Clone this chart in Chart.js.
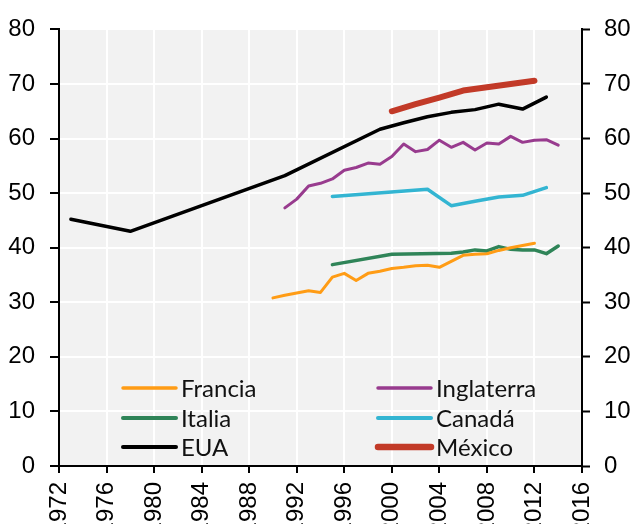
<!DOCTYPE html>
<html>
<head>
<meta charset="utf-8">
<script src="https://cdn.jsdelivr.net/npm/chart.js@4.4.1/dist/chart.umd.min.js"></script>
<style>
    html, body { margin: 0; padding: 0; background: #fff; overflow: hidden; }
</style>
</head>
<body>
<canvas id="grafico1" width="631" height="532"></canvas>
<script>
// Datos
const anosFrancia = [1990, 1991, 1992, 1993, 1994, 1995, 1996, 1997, 1998, 1999, 2000, 2001, 2002, 2003, 2004, 2005, 2006, 2007, 2008, 2009, 2010, 2011, 2012];
const valFrancia = [30.8, 31.3, 31.7, 32.1, 31.8, 34.6, 35.3, 34.0, 35.3, 35.7, 36.2, 36.4, 36.7, 36.8, 36.4, 37.5, 38.6, 38.8, 38.9, 39.5, 40.0, 40.4, 40.8];

const anosItalia = [1995, 2000, 2005, 2006, 2007, 2008, 2009, 2010, 2011, 2012, 2013, 2014];
const valItalia = [36.9, 38.8, 39.0, 39.2, 39.6, 39.4, 40.2, 39.7, 39.6, 39.6, 38.9, 40.3];

const anosEUA = [1973, 1978, 1991, 1999, 2001, 2003, 2005, 2007, 2009, 2011, 2013];
const valEUA = [45.2, 43.0, 53.2, 61.7, 62.9, 64.0, 64.8, 65.3, 66.3, 65.4, 67.6];

const anosInglaterra = [1991, 1992, 1993, 1994, 1995, 1996, 1997, 1998, 1999, 2000, 2001, 2002, 2003, 2004, 2005, 2006, 2007, 2008, 2009, 2010, 2011, 2012, 2013, 2014];
const valInglaterra = [47.3, 48.9, 51.3, 51.8, 52.6, 54.2, 54.7, 55.5, 55.3, 56.7, 59.0, 57.6, 58.0, 59.7, 58.4, 59.3, 57.9, 59.2, 59.0, 60.4, 59.3, 59.7, 59.8, 58.8];

const anosCanada = [1995, 2003, 2005, 2007, 2009, 2011, 2013];
const valCanada = [49.4, 50.7, 47.7, 48.5, 49.3, 49.6, 51.0];

const anosMexico = [2000, 2002, 2004, 2006, 2008, 2010, 2012];
const valMexico = [65.0, 66.3, 67.5, 68.8, 69.4, 70.0, 70.6];

const ticksX = [1972, 1976, 1980, 1984, 1988, 1992, 1996, 2000, 2004, 2008, 2012, 2016];
const ticksY = [0, 10, 20, 30, 40, 50, 60, 70, 80];

function puntos(anos, valores) {
    return anos.map((a, i) => ({ x: a, y: valores[i] }));
}

const fuenteEje = "'Liberation Sans Narrow', 'Arial Narrow', 'Liberation Sans', sans-serif";

// fondo gris del área de trazado
const fondoArea = {
    id: 'fondoArea',
    beforeDraw(chart) {
        const a = chart.chartArea;
        const ctx = chart.ctx;
        ctx.save();
        ctx.fillStyle = '#f2f2f2';
        ctx.fillRect(a.left, a.top, a.right - a.left, a.bottom - a.top);
        ctx.restore();
    }
};

// leyenda en dos columnas dentro del área
const leyenda = {
    id: 'leyenda',
    afterDraw(chart) {
        const a = chart.chartArea;
        const ctx = chart.ctx;
        const columnas = [64, 319];
        const filas = [78, 48, 19];
        ctx.save();
        chart.data.datasets.forEach(function (ds, i) {
            const x = a.left + columnas[Math.floor(i / 3)];
            const y = a.bottom - filas[i % 3];
            ctx.strokeStyle = ds.borderColor;
            ctx.lineWidth = ds.borderWidth + 0.5;
            ctx.lineCap = 'round';
            ctx.beginPath();
            ctx.moveTo(x, y);
            ctx.lineTo(x + 53, y);
            ctx.stroke();
            ctx.fillStyle = '#111';
            ctx.font = "24px Lato, 'Noto Sans', sans-serif";
            ctx.textBaseline = 'middle';
            ctx.textAlign = 'left';
            ctx.fillText(ds.label, x + 58, y + 1);
        });
        ctx.restore();
    }
};

function serie(label, anos, valores, color, ancho) {
    return {
        label: label,
        data: puntos(anos, valores),
        borderColor: color,
        backgroundColor: color,
        borderWidth: ancho,
        pointRadius: 0,
        tension: 0,
        fill: false,
        borderCapStyle: 'round',
        borderJoinStyle: 'round'
    };
}

const ctx = document.getElementById('grafico1').getContext('2d');
new Chart(ctx, {
    type: 'line',
    data: {
        datasets: [
            serie('Francia', anosFrancia, valFrancia, '#ff9c15', 3),
            serie('Italia', anosItalia, valItalia, '#2f8458', 3.5),
            serie('EUA', anosEUA, valEUA, '#000000', 3.5),
            serie('Inglaterra', anosInglaterra, valInglaterra, '#983b8e', 3),
            serie('Canadá', anosCanada, valCanada, '#33b5d2', 3.5),
            serie('México', anosMexico, valMexico, '#c23a28', 6)
        ]
    },
    options: {
        responsive: false,
        animation: false,
        layout: { padding: { top: 28, left: 0, right: 0, bottom: 0 } },
        plugins: {
            legend: { display: false },
            tooltip: { enabled: false }
        },
        scales: {
            x: {
                type: 'linear',
                min: 1972,
                max: 2016,
                afterBuildTicks: function (s) { s.ticks = ticksX.map(v => ({ value: v })); },
                afterFit: function (s) { s.height = 66; },
                ticks: {
                    color: '#000',
                    font: { family: fuenteEje, size: 24 },
                    minRotation: 90,
                    maxRotation: 90,
                    padding: 9,
                    autoSkip: false,
                    callback: v => String(v)
                },
                grid: { color: '#ffffff', lineWidth: 2, tickColor: '#000', tickWidth: 2, tickLength: 7 },
                border: { color: '#000', width: 2 }
            },
            y: {
                position: 'left',
                min: 0,
                max: 80,
                afterBuildTicks: function (s) { s.ticks = ticksY.map(v => ({ value: v })); },
                afterFit: function (s) { s.width = 59; },
                ticks: {
                    color: '#000',
                    font: { family: fuenteEje, size: 24 },
                    padding: 15
                },
                grid: { color: '#ffffff', lineWidth: 2, tickColor: '#000', tickWidth: 2, tickLength: 9 },
                border: { color: '#000', width: 2 }
            },
            y2: {
                position: 'right',
                min: 0,
                max: 80,
                afterBuildTicks: function (s) { s.ticks = ticksY.map(v => ({ value: v })); },
                afterFit: function (s) { s.width = 49; },
                ticks: {
                    color: '#000',
                    font: { family: fuenteEje, size: 24 },
                    padding: 14
                },
                grid: { drawOnChartArea: false, tickColor: '#000', tickWidth: 2, tickLength: 8 },
                border: { color: '#000', width: 2 }
            }
        }
    },
    plugins: [fondoArea, leyenda]
});
</script>
</body>
</html>
